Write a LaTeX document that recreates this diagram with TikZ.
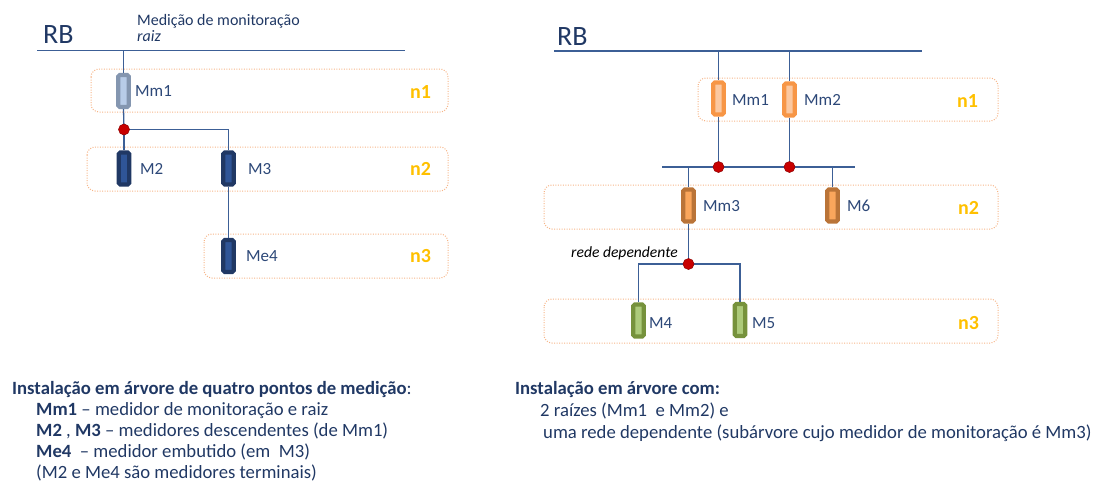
\documentclass[tikz,border=0pt]{standalone}
\usepackage{fontspec}
\setmainfont{Carlito}
\definecolor{txt}{RGB}{32,56,100}
\definecolor{lbl}{RGB}{45,72,120}
\definecolor{wirec}{RGB}{60,95,150}
\definecolor{regc}{RGB}{246,180,135}
\definecolor{goldc}{RGB}{255,192,0}
\definecolor{dotc}{RGB}{200,0,0}
\definecolor{grayO}{RGB}{132,150,176}
\definecolor{grayI}{RGB}{184,204,232}
\definecolor{navyO}{RGB}{32,56,100}
\definecolor{navyI}{RGB}{47,85,151}
\definecolor{orO}{RGB}{247,150,70}
\definecolor{orI}{RGB}{251,200,160}
\definecolor{brO}{RGB}{186,116,56}
\definecolor{brI}{RGB}{250,166,92}
\definecolor{grO}{RGB}{118,146,60}
\definecolor{grI}{RGB}{172,202,122}
\begin{document}
\begin{tikzpicture}[x=1pt,y=-1pt,
  meter/.style={draw, line width=4.2pt, minimum width=10.5pt, minimum height=32pt, inner sep=0pt, rounded corners=1.5pt},
  mgray/.style={meter, draw=grayO, fill=grayI},
  mnavy/.style={meter, draw=navyO, fill=navyI},
  morange/.style={meter, draw=orO, fill=orI},
  mbrown/.style={meter, draw=brO, fill=brI},
  mgreen/.style={meter, draw=grO, fill=grI},
  region/.style={draw=regc, line width=1pt, dash pattern=on 1pt off 1.5pt, rounded corners=8pt, inner sep=0pt},
  wire/.style={draw=wirec, line width=1.3pt},
  bus/.style={draw=wirec, line width=1.5pt},
  dotn/.style={circle, fill=dotc, draw=red!55!black, line width=0.5pt, minimum size=11pt, inner sep=0pt},
  mlabel/.style={anchor=west, inner sep=0pt, text=lbl, font=\fontsize{17}{20}\selectfont},
  nlabel/.style={anchor=west, inner sep=0pt, text=goldc, font=\fontsize{20}{24}\selectfont\bfseries},
  rblabel/.style={anchor=base west, inner sep=0pt, text=txt, font=\fontsize{28}{32}\selectfont},
  note/.style={anchor=base west, inner sep=0pt, text=txt, font=\fontsize{18.7}{21}\selectfont},
]
\useasboundingbox (0,0) rectangle (1109,490);

% ================= LEFT =================
\draw[region] (91,69) rectangle (448,112);
\draw[region] (87,147) rectangle (448,191);
\draw[region] (204,234) rectangle (448,278);

\node[rblabel] (LRB) at (43,43) {RB};
\node[anchor=base west, inner sep=0pt, text=txt, font=\fontsize{16}{19}\selectfont] (Lmed) at (137,25) {Medição de monitoração};
\node[anchor=base west, inner sep=0pt, text=txt, font=\fontsize{16}{19}\selectfont\itshape] (Lraiz) at (137,41) {raiz};

\coordinate (LbusL) at (37,50.5);
\coordinate (LbusR) at (405,50.5);
\draw[bus] (LbusL) -- (LbusR);

\node[mgray] (Lmm1) at (123.5,91) {};
\node[mnavy] (Lm2) at (124,168.5) {};
\node[mnavy] (Lm3) at (228.5,168.5) {};
\node[mnavy] (Lme4) at (228.5,256) {};

\coordinate (Ltap) at (123.5,50.5);
\coordinate (Ldot) at (124,129.5);
\draw[wire] (Ltap) -- (Lmm1.north);
\draw[wire] (Lmm1.south) -- (Ldot);
\draw[wire] (Ldot) -- (Lm2.north);
\draw[wire] (Ldot) -| (Lm3.north);
\draw[wire] (Lm3.south) -- (Lme4.north);
\node[dotn] (LdotN) at (Ldot) {};

\node[mlabel] (Lmm1t) at (135,91) {Mm1};
\node[mlabel] (Lm2t) at (140,169) {M2};
\node[mlabel] (Lm3t) at (248,169) {M3};
\node[mlabel] (Lme4t) at (246,256) {Me4};
\node[nlabel] (Ln1) at (410,92) {n1};
\node[nlabel] (Ln2) at (410,169) {n2};
\node[nlabel] (Ln3) at (410,256) {n3};

% ================= RIGHT =================
\draw[region] (698,78) rectangle (998,121);
\draw[region] (544,185) rectangle (998,229);
\draw[region] (544,299) rectangle (998,343);

\node[rblabel] (RRB) at (557,45) {RB};
\coordinate (RbusL) at (554,51);
\coordinate (RbusR) at (922,51);
\draw[bus] (RbusL) -- (RbusR);

\node[morange] (Rmm1) at (718.5,98.5) {};
\node[morange] (Rmm2) at (789.5,99.5) {};
\node[mbrown] (Rmm3) at (688.5,205.5) {};
\node[mbrown] (Rm6) at (832.5,205.5) {};
\node[mgreen] (Rm4) at (638.5,320.5) {};
\node[mgreen] (Rm5) at (740,320) {};

\coordinate (Rtap1) at (718.5,51);
\coordinate (Rtap2) at (789.5,51);
\coordinate (Rb2L) at (662,167);
\coordinate (Rb2R) at (855,167);
\coordinate (Rd1) at (718.5,167);
\coordinate (Rd2) at (789.5,167);
\coordinate (Rtap3) at (688.5,167);
\coordinate (Rtap6) at (832.5,167);
\coordinate (Rd3) at (688.5,264);

\draw[wire] (Rtap1) -- (Rmm1.north);
\draw[wire] (Rtap2) -- (Rmm2.north);
\draw[bus] (Rb2L) -- (Rb2R);
\draw[wire] (Rmm1.south) -- (Rd1);
\draw[wire] (Rmm2.south) -- (Rd2);
\draw[wire] (Rtap3) -- (Rmm3.north);
\draw[wire] (Rtap6) -- (Rm6.north);
\draw[wire] (Rmm3.south) -- (Rd3);
\draw[wire] (Rd3) -| (Rm4.north);
\draw[wire] (Rd3) -| (Rm5.north);
\node[dotn] (Rd1N) at (Rd1) {};
\node[dotn] (Rd2N) at (Rd2) {};
\node[dotn] (Rd3N) at (Rd3) {};

\node[anchor=base east, inner sep=0pt, font=\fontsize{15.6}{18}\selectfont\itshape] (Rrede) at (678,257) {rede dependente};

\node[mlabel] (Rmm1t) at (732,100) {Mm1};
\node[mlabel] (Rmm2t) at (804,100) {Mm2};
\node[mlabel] (Rmm3t) at (703,206) {Mm3};
\node[mlabel] (Rm6t) at (847,206) {M6};
\node[mlabel] (Rm4t) at (649,323) {M4};
\node[mlabel] (Rm5t) at (752,323) {M5};
\node[nlabel] (Rn1) at (957,101) {n1};
\node[nlabel] (Rn2) at (958,208) {n2};
\node[nlabel] (Rn3) at (958,323) {n3};

% ================= NOTES =================
\node[note] (T1) at (12,394) {\textbf{Instalação em árvore de quatro pontos de medição}:};
\node[note] (T2) at (36,415) {\textbf{Mm1} – medidor de monitoração e raiz};
\node[note] (T3) at (36,436) {\textbf{M2} , \textbf{M3} – medidores descendentes (de Mm1)};
\node[note] (T4) at (36,457) {\textbf{Me4}\ \ – medidor embutido (em\ \ M3)};
\node[note] (T5) at (36,478) {(M2 e Me4 são medidores terminais)};

\node[note] (U1) at (515,394) {\textbf{Instalação em árvore com:}};
\node[note] (U2) at (540,416) {2 raízes (Mm1\ \ e Mm2) e};
\node[note] (U3) at (543,438) {uma rede dependente (subárvore cujo medidor de monitoração é Mm3)};
\end{tikzpicture}
\end{document}
